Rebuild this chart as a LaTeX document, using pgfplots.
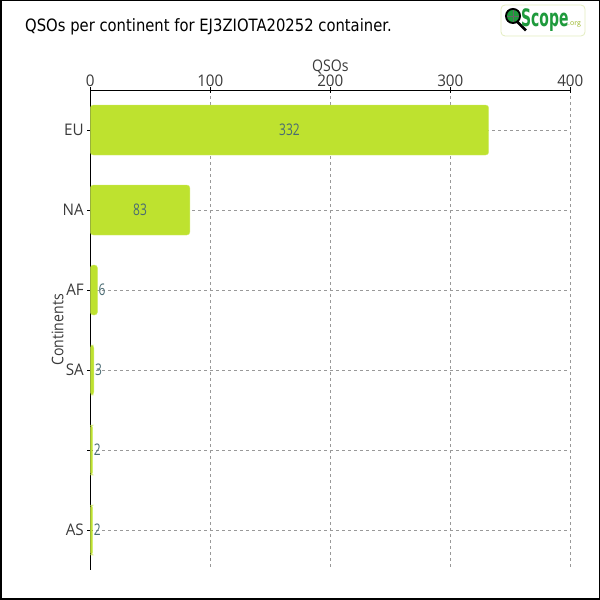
\documentclass[border=0pt]{standalone}
\usepackage{pgfplots}
\pgfplotsset{compat=1.18}
\usepackage{fontspec}
\setmainfont{Open Sans}
\newfontfamily\titlefont[FakeStretch=0.87]{DejaVu Sans}
\newfontfamily\logofont[FakeStretch=0.58]{DejaVu Sans}
\newfontfamily\tickfont[FakeStretch=0.95]{Open Sans}
\newfontfamily\labfont[FakeStretch=0.88]{Open Sans}
\newfontfamily\valfont[FakeStretch=0.75]{Open Sans}
\definecolor{barc}{HTML}{BEE22F}
\definecolor{lblc}{HTML}{4A6B73}
\definecolor{tickc}{HTML}{3A3A3A}
\definecolor{gridc}{HTML}{999999}
\definecolor{logog}{HTML}{1E9A3C}
\definecolor{logobox}{HTML}{E3EDC0}
\begin{document}
\begin{tikzpicture}[x=1pt,y=1pt]
\useasboundingbox (0,0) rectangle (600,600);
\draw[line width=1.5pt] (0.75,0.75) rectangle (599.25,599.25);
\node[anchor=base west, inner sep=0pt, font=\titlefont\fontsize{17}{20}\selectfont] at (25,568) {QSOs per continent for EJ3ZIOTA20252 container.};
% logo
\draw[rounded corners=4pt, draw=logobox, line width=0.8pt, fill=white] (501,564) rectangle (585,595);
\draw[black, line width=2.8pt] (517.5,578) -- (526,569.5);
\fill[black] (513,584) circle (8);
\fill[logog] (513,584) circle (6);
\draw[black!60, line width=0.4pt] (513,578) -- (513,590) (507,584) -- (519,584);
\node[anchor=base west, inner sep=0pt, text=logog, font=\logofont\bfseries\fontsize{24}{24}\selectfont] at (521,573) {Scope};
\node[anchor=base west, inner sep=0pt, text=barc!80!black, font=\fontsize{7}{8}\selectfont] at (568,574) {.org};
\begin{axis}[
  at={(90.3pt,30pt)}, anchor=south west, scale only axis,
  width=480pt, height=480pt,
  xmin=0, xmax=400, ymin=-0.5, ymax=5.5, y dir=reverse,
  axis x line*=top, axis y line*=left,
  xtick={0,100,200,300,400},
  ytick={0,1,2,3,4,5}, yticklabels={EU,NA,AF,SA,{},AS},
  tick align=center, major tick length=6pt,
  grid=major, major grid style={dashed, gridc, line width=0.6pt},
  axis line style={line width=0.9pt},
  tick style={line width=0.8pt, black},
  /pgf/number format/assume math mode=true,
  ticklabel style={text=tickc, font=\tickfont\fontsize{16}{18}\selectfont},
  xlabel={QSOs}, ylabel={Continents},
  label style={text=tickc, font=\labfont\fontsize{16}{18}\selectfont},
  xlabel style={at={(axis description cs:0.5,1)}, anchor=base, yshift=19pt},
  ylabel style={at={(axis description cs:0,0.5)}, anchor=base, yshift=27pt},
  xticklabel style={yshift=-3.5pt},
]
\addplot[xbar, bar width=50pt, bar shift=0pt, fill=barc, draw=barc!70!white, rounded corners=3pt]
  coordinates {(332,0) (83,1) (6,2) (3,3) (2,4) (2,5)};
\addplot[draw=none, mark=none, nodes near coords, point meta=explicit symbolic,
  nodes near coords style={text=lblc, anchor=center, font=\valfont\fontsize{16}{18}\selectfont}]
  coordinates {(166,0) [332] (41.5,1) [83]};
\addplot[draw=none, mark=none, nodes near coords, point meta=explicit symbolic,
  nodes near coords style={text=lblc, anchor=west, inner sep=1pt, font=\valfont\fontsize{16}{18}\selectfont}]
  coordinates {(6,2) [6] (3,3) [3] (2,4) [2] (2,5) [2]};
\end{axis}
\end{tikzpicture}
\end{document}
